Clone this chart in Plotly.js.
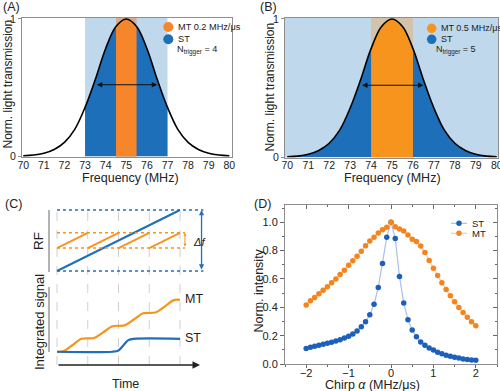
<!DOCTYPE html>
<html><head><meta charset="utf-8">
<script src="https://cdn.plot.ly/plotly-3.0.1.min.js"></script>
<style>html,body{margin:0;padding:0;background:#fff}#chart{width:500px;height:391px}</style>
</head><body><div id="chart"></div>
<script>
// ---------- Panels A & B: transmission curve ----------
const freq = [70,70.5,71,71.5,72,72.5,73,73.5,74,74.5,75,75.5,76,76.5,77,77.5,78,78.5,79,79.5,80];
const transmission = [0.002,0.007,0.02,0.048,0.10,0.195,0.355,0.56,0.785,0.945,1.0,0.945,0.785,0.56,0.355,0.195,0.10,0.048,0.02,0.007,0.002];
const bandA_ST = [73, 77];
const bandA_MT = [74.5, 75.5];
const bandB_ST = [70, 80];
const bandB_MT = [74, 76];
const fwhm = [73.5, 76.5];
const halfLevel = 0.52;
const freqTicks = [70,71,72,73,74,75,76,77,78,79,80];

// ---------- Panel C: schematic ----------
const gridTimes = [0,1,2,3,4];
const rfTime = [0, 4];
const rfChirpST = [0, 4];
const mtRampStarts = [0,1,2,3];
const mtRampLow = 1.5, mtRampHigh = 2.5;
const sigTimeMT = [0,0.2,0.5,0.8,1.2,1.5,1.8,2.2,2.5,2.8,3.2,3.5,3.8,4.0];
const sigMT     = [0,0.03,0.5,1.0,1.06,1.5,1.98,2.04,2.5,2.98,3.04,3.5,4.0,4.02];
const sigTimeST = [0,1.8,2.0,2.16,2.32,2.5,4.0];
const sigST     = [0,0,0.1,0.5,0.9,1.0,1.0];

// ---------- Panel D: chirp dependence ----------
const chirp = [-2.0,-1.9,-1.8,-1.7,-1.6,-1.5,-1.4,-1.3,-1.2,-1.1,-1.0,-0.9,-0.8,-0.7,-0.6,-0.5,-0.4,-0.3,-0.2,-0.1,0,
               0.1,0.2,0.3,0.4,0.5,0.6,0.7,0.8,0.9,1.0,1.1,1.2,1.3,1.4,1.5,1.6,1.7,1.8,1.9,2.0];
const intensityST = [0.11,0.119,0.126,0.133,0.14,0.146,0.154,0.162,0.171,0.183,0.196,0.212,0.232,0.262,0.298,0.348,0.422,0.54,0.71,0.894,1.0,
                     0.885,0.618,0.43,0.313,0.24,0.192,0.156,0.132,0.113,0.098,0.083,0.073,0.062,0.054,0.047,0.042,0.036,0.032,0.029,0.027];
const intensityMT = [0.416,0.446,0.47,0.496,0.52,0.546,0.573,0.60,0.632,0.662,0.696,0.728,0.761,0.796,0.835,0.868,0.895,0.925,0.947,0.965,1.0,
                     0.969,0.953,0.938,0.91,0.88,0.865,0.833,0.786,0.73,0.676,0.624,0.574,0.525,0.481,0.439,0.398,0.364,0.33,0.298,0.27];

// ---------- helpers ----------
const W = 500, H = 391;
const px = x => x / W, py = y => 1 - y / H;
const FONT = 'Liberation Sans, Arial, sans-serif';
const TXT = '#222';
const BLUE = '#1c6fb8', LBLUE = '#c0d8ec', ORANGE_A = '#f7862a', ORANGE_B = '#f7941e';
const TAN_A = '#d8a98b', TAN_B = '#d2c3aa';
const CBLUE = '#1f6fba', CORANGE = '#f7941d';

function band(lo, hi) {
  const x = [], y = [];
  freq.forEach((f, i) => { if (f >= lo - 1e-9 && f <= hi + 1e-9) { x.push(f); y.push(transmission[i]); } });
  return {x, y};
}
function fillTrace(b, color, xa, ya) {
  return {x: b.x, y: b.y, xaxis: xa, yaxis: ya, type: 'scatter', mode: 'lines', fill: 'tozeroy',
          fillcolor: color, line: {width: 0, shape: 'spline', color: color}, hoverinfo: 'skip', showlegend: false};
}
function curveTrace(xa, ya) {
  return {x: freq, y: transmission, xaxis: xa, yaxis: ya, type: 'scatter', mode: 'lines',
          line: {color: '#000', width: 1.6, shape: 'spline'}, showlegend: false};
}

const traces = [];
traces.push(fillTrace(band(...bandA_ST), BLUE, 'x', 'y'));
traces.push(fillTrace(band(...bandA_MT), ORANGE_A, 'x', 'y'));
traces.push(curveTrace('x', 'y'));
traces.push(fillTrace(band(...bandB_ST), BLUE, 'x2', 'y2'));
traces.push(fillTrace(band(...bandB_MT), ORANGE_B, 'x2', 'y2'));
traces.push(curveTrace('x2', 'y2'));
traces.push({x: rfTime, y: rfChirpST, xaxis: 'x3', yaxis: 'y3', mode: 'lines', line: {color: CBLUE, width: 2}, showlegend: false});
{
  const x = [], y = [];
  mtRampStarts.forEach(t => { x.push(t, t + 1, null); y.push(mtRampLow, mtRampHigh, null); });
  traces.push({x, y, xaxis: 'x3', yaxis: 'y3', mode: 'lines', line: {color: CORANGE, width: 2}, showlegend: false});
}
traces.push({x: sigTimeMT, y: sigMT, xaxis: 'x4', yaxis: 'y4', mode: 'lines', line: {color: CORANGE, width: 2.2, shape: 'spline', smoothing: 0.9}, showlegend: false});
traces.push({x: sigTimeST, y: sigST, xaxis: 'x4', yaxis: 'y4', mode: 'lines', line: {color: CBLUE, width: 2.2, shape: 'spline', smoothing: 0.9}, showlegend: false});
traces.push({x: chirp, y: intensityST, xaxis: 'x5', yaxis: 'y5', name: 'ST', mode: 'lines+markers',
             line: {color: '#a9c1e6', width: 1.2}, marker: {color: '#1d5fbd', size: 5.5}, showlegend: false});
traces.push({x: chirp, y: intensityMT, xaxis: 'x5', yaxis: 'y5', name: 'MT', mode: 'lines+markers',
             line: {color: '#f9cc9f', width: 1.2}, marker: {color: '#f5841f', size: 5.5}, showlegend: false});
traces.push({x: [], y: [], xaxis: 'x6', yaxis: 'y6', showlegend: false, hoverinfo: 'skip'});

const boxAxis = {showline: true, mirror: true, linecolor: '#8e8e8e', linewidth: 1, zeroline: false, showgrid: false,
                 ticklabeloverflow: 'allow', tickfont: {family: FONT, size: 10.5, color: TXT}};
const hidden = {visible: false, showgrid: false, zeroline: false};

const layout = {
  width: W, height: H, margin: {l: 0, r: 0, t: 0, b: 0},
  paper_bgcolor: '#fff', plot_bgcolor: 'rgba(0,0,0,0)', showlegend: false,
  font: {family: FONT, color: TXT},
  xaxis: Object.assign({}, boxAxis, {domain: [px(22), px(232)], range: [69.94, 80.13], anchor: 'y',
    tickvals: freqTicks, ticks: '', ticklabelstandoff: -2}),
  yaxis: Object.assign({}, boxAxis, {domain: [py(157), py(18)], range: [-0.007, 1.007], anchor: 'x',
    tickvals: [0, 1], ticks: 'outside', ticklen: 3, tickcolor: '#8e8e8e'}),
  xaxis2: Object.assign({}, boxAxis, {domain: [px(285), px(498)], range: [69.89, 80.06], anchor: 'y2',
    tickvals: freqTicks, ticks: '', ticklabelstandoff: -2}),
  yaxis2: Object.assign({}, boxAxis, {domain: [py(157.5), py(18)], range: [-0.003, 1.007], anchor: 'x2',
    tickvals: [0, 1], ticks: 'outside', ticklen: 3, tickcolor: '#8e8e8e'}),
  xaxis3: Object.assign({}, hidden, {domain: [px(49), px(212)], range: [-0.26, 5.04], anchor: 'y3'}),
  yaxis3: Object.assign({}, hidden, {domain: [py(274), py(208)], range: [-0.197, 4.131], anchor: 'x3'}),
  xaxis4: Object.assign({}, hidden, {domain: [px(49), px(212)], range: [-0.26, 5.04], anchor: 'y4'}),
  yaxis4: Object.assign({}, hidden, {domain: [py(368), py(285)], range: [-1.26, 5.17], anchor: 'x4'}),
  xaxis5: Object.assign({}, boxAxis, {domain: [px(285), px(497)], range: [-2.5, 2.5], anchor: 'y5', mirror: false,
    tickvals: [-2, -1, 0, 1, 2], ticks: 'outside', ticklen: 3, tickcolor: '#666', tickfont: {family: FONT, size: 11, color: TXT},
    ticklabelstandoff: -4, minor: {dtick: 0.5, ticks: 'outside', ticklen: 2, tickcolor: '#666'}}),
  yaxis5: Object.assign({}, boxAxis, {domain: [py(364), py(205)], range: [0, 1.122], anchor: 'x5', mirror: false,
    dtick: 0.2, tick0: 0, tickformat: '.1f', ticks: 'outside', ticklen: 4, tickcolor: '#666', tickfont: {family: FONT, size: 11, color: TXT},
    minor: {dtick: 0.1, ticks: 'outside', ticklen: 2, tickcolor: '#666'}}),
  xaxis6: {overlaying: 'x5', side: 'top', anchor: 'y5', range: [-2.5, 2.5], showline: true, linecolor: '#8e8e8e', linewidth: 1,
    tickvals: [-2, -1, 0, 1, 2], ticks: 'inside', ticklen: 4, tickcolor: '#666', showticklabels: false, showgrid: false, zeroline: false,
    minor: {dtick: 0.5, ticks: 'inside', ticklen: 2, tickcolor: '#666'}},
  yaxis6: {overlaying: 'y5', side: 'right', anchor: 'x5', range: [0, 1.122], showline: true, linecolor: '#8e8e8e', linewidth: 1,
    dtick: 0.2, tick0: 0, ticks: 'inside', ticklen: 4, tickcolor: '#666', showticklabels: false, showgrid: false, zeroline: false,
    minor: {dtick: 0.1, ticks: 'inside', ticklen: 2, tickcolor: '#666'}},
  shapes: [],
  annotations: []
};

const S = layout.shapes, A = layout.annotations;
S.push({type: 'rect', xref: 'x', yref: 'y domain', x0: bandA_ST[0], x1: bandA_ST[1], y0: 0, y1: 1, fillcolor: LBLUE, line: {width: 0}, layer: 'below'});
S.push({type: 'rect', xref: 'x', yref: 'y domain', x0: bandA_MT[0], x1: bandA_MT[1], y0: 0, y1: 1, fillcolor: TAN_A, line: {width: 0}, layer: 'below'});
S.push({type: 'rect', xref: 'x2 domain', yref: 'y2 domain', x0: 0, x1: 1, y0: 0, y1: 1, fillcolor: LBLUE, line: {width: 0}, layer: 'below'});
S.push({type: 'rect', xref: 'x2', yref: 'y2 domain', x0: bandB_MT[0], x1: bandB_MT[1], y0: 0, y1: 1, fillcolor: TAN_B, line: {width: 0}, layer: 'below'});

function dot(xp, yp, color, d) {
  S.push({type: 'circle', xref: 'paper', yref: 'paper', xsizemode: 'pixel', ysizemode: 'pixel',
          xanchor: px(xp), yanchor: py(yp), x0: -d / 2, x1: d / 2, y0: -d / 2, y1: d / 2, fillcolor: color, line: {width: 0}});
}
function label(xp, yp, text, size, extra) {
  A.push(Object.assign({xref: 'paper', yref: 'paper', x: px(xp), y: py(yp), text: text, showarrow: false,
    xanchor: 'left', yanchor: 'middle', font: {family: FONT, size: size, color: TXT}}, extra || {}));
}
// axis titles
label(130, 177.5, 'Frequency (MHz)', 12.5, {xanchor: 'center'});
label(392.5, 177.5, 'Frequency (MHz)', 12.5, {xanchor: 'center'});
label(372, 384.5, 'Chirp <i>α</i> (MHz/μs)', 12.5, {xanchor: 'center'});
label(7.5, 84, 'Norm. light transmission', 12, {xanchor: 'center', textangle: -90});
label(269, 87.5, 'Norm. light transmission', 12, {xanchor: 'center', textangle: -90});
label(258.5, 291, 'Norm. intensity', 12.5, {xanchor: 'center', textangle: -90});

// Legend-like markers in A and B
dot(168.3, 27, ORANGE_A, 10); dot(168.3, 39.3, BLUE, 10);
label(175.5, 27, 'MT 0.2 MHz/μs', 9.2); label(175.5, 39.3, 'ST', 9.2); label(175, 50.5, 'N<sub>trigger</sub> = 4', 9.2);
dot(431.7, 28.3, ORANGE_B, 9.5); dot(431.7, 39.3, BLUE, 9.5);
label(438.5, 28.3, 'MT 0.5 MHz/μs', 9); label(438.5, 39.3, 'ST', 9); label(434, 49.5, 'N<sub>trigger</sub> = 5', 9);

// FWHM arrows
[['x', 'y'], ['x2', 'y2']].forEach(([xa, ya]) => {
  A.push({xref: xa, yref: ya, axref: xa, ayref: ya, x: fwhm[1], y: halfLevel, ax: fwhm[0], ay: halfLevel, text: '',
          showarrow: true, arrowside: 'end+start', arrowhead: 2, arrowsize: 0.9, arrowwidth: 1.2, arrowcolor: '#111'});
});

// Panel C decorations
gridTimes.forEach(t => S.push({type: 'line', xref: 'x3', yref: 'paper', x0: t, x1: t, y0: py(365), y1: py(210),
  line: {color: '#cfcfcf', width: 1, dash: 'dash'}, layer: 'below'}));
S.push({type: 'line', xref: 'paper', yref: 'paper', x0: px(49), x1: px(49), y0: py(272), y1: py(210), line: {color: '#9a9a9a', width: 1.5}});
S.push({type: 'line', xref: 'paper', yref: 'paper', x0: px(49), x1: px(49), y0: py(352), y1: py(287), line: {color: '#9a9a9a', width: 1.5}});
[rfChirpST[0], rfChirpST[1]].forEach(v => S.push({type: 'line', xref: 'x3', yref: 'y3', x0: 0, x1: 4.76, y0: v, y1: v,
  line: {color: CBLUE, width: 1.5, dash: 'dot'}}));
[mtRampLow, mtRampHigh].forEach(v => S.push({type: 'line', xref: 'x3', yref: 'y3', x0: 0, x1: 4.16, y0: v, y1: v,
  line: {color: CORANGE, width: 1.5, dash: 'dot'}}));
A.push({xref: 'x3', yref: 'y3', axref: 'x3', ayref: 'y3', x: 4.70, y: rfChirpST[1], ax: 4.70, ay: rfChirpST[0], text: '',
        showarrow: true, arrowside: 'end+start', arrowhead: 2, arrowsize: 0.8, arrowwidth: 1.3, arrowcolor: CBLUE});
A.push({xref: 'x3', yref: 'y3', axref: 'x3', ayref: 'y3', x: 4.16, y: mtRampHigh, ax: 4.16, ay: mtRampLow, text: '',
        showarrow: true, arrowside: 'end+start', arrowhead: 2, arrowsize: 0.6, arrowwidth: 1, arrowcolor: CORANGE});
label(190.5, 242, '<i>Δf</i>', 11);
A.push({xref: 'x4', yref: 'y4', axref: 'x4', ayref: 'y4', x: 4.65, y: -1.03, ax: 0, ay: -1.03, text: '',
        showarrow: true, arrowhead: 2, arrowsize: 1, arrowwidth: 1.5, arrowcolor: '#222'});
A.push({xref: 'x4', yref: 'y4', x: 4.1, y: 4.08, text: 'MT', showarrow: false, xanchor: 'left', yanchor: 'middle', font: {family: FONT, size: 12.5, color: TXT}});
A.push({xref: 'x4', yref: 'y4', x: 4.1, y: 1.05, text: 'ST', showarrow: false, xanchor: 'left', yanchor: 'middle', font: {family: FONT, size: 12.5, color: TXT}});
label(39, 241, 'RF', 13.5, {xanchor: 'center', textangle: -90});
label(39, 322, 'Integrated signal', 13, {xanchor: 'center', textangle: -90});
label(125, 384, 'Time', 12.5, {xanchor: 'center'});

// Panel D legend
[['ST', '#a9c1e6', '#1d5fbd', 223.3], ['MT', '#f9cc9f', '#f5841f', 233.3]].forEach(([name, lc, mc, yy]) => {
  S.push({type: 'line', xref: 'paper', yref: 'paper', x0: px(451), x1: px(467), y0: py(yy), y1: py(yy), line: {color: lc, width: 1.2}});
  dot(459, yy, mc, 5.5);
  label(470, yy, name, 9.5);
});

// Panel labels
label(1, 6.5, '(A)', 12.5); label(258, 6.5, '(B)', 12.5); label(3, 204, '(C)', 12.5); label(252, 204, '(D)', 12.5);

Plotly.newPlot('chart', traces, layout, {staticPlot: true, displayModeBar: false});
</script></body></html>
